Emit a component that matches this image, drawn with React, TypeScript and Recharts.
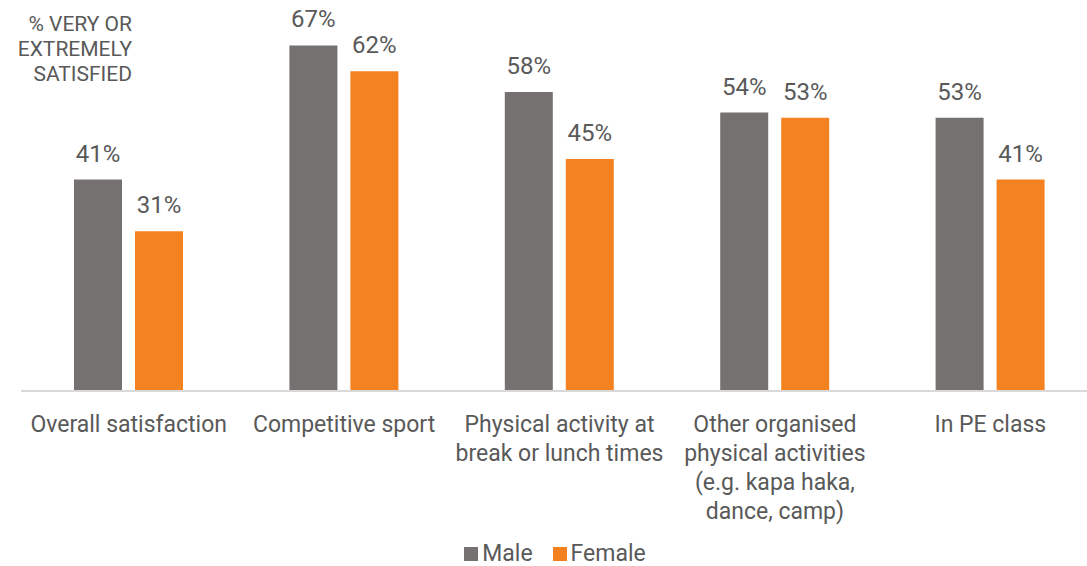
import { Bar, BarChart, LabelList, Legend, XAxis, YAxis } from 'recharts'

const categories = [
  'Overall satisfaction',
  'Competitive sport',
  'Physical activity at\nbreak or lunch times',
  'Other organised\nphysical activities\n(e.g. kapa haka,\ndance, camp)',
  'In PE class',
]
const male = [41, 67, 58, 54, 53]
const female = [31, 62, 45, 53, 41]
const seriesOrder = ['Male', 'Female']

const TEXT = '#595959'
const FONT = 'Roboto, "Noto Sans", sans-serif'

const data = categories.map((name, i) => ({ name, Male: male[i], Female: female[i] }))

function CategoryTick({ x, y, payload }: any) {
  const lines = String(payload.value).split('\n')
  return (
    <text x={x} y={y} textAnchor="middle" fill={TEXT} fontSize={23} fontFamily={FONT}>
      {lines.map((line, i) => (
        <tspan key={i} x={x} dy={i === 0 ? 33 : 29}>
          {line}
        </tspan>
      ))}
    </text>
  )
}

function LegendContent({ payload }: any) {
  const items = [...(payload ?? [])].sort(
    (a: any, b: any) => seriesOrder.indexOf(a.dataKey) - seriesOrder.indexOf(b.dataKey)
  )
  return (
    <div style={{ display: 'flex', justifyContent: 'center', gap: 20, fontFamily: FONT, fontSize: 23, color: TEXT }}>
      {items.map((it: any) => (
        <span key={it.value} style={{ display: 'flex', alignItems: 'center' }}>
          <span style={{ width: 14, height: 14, background: it.color, marginRight: 4, display: 'inline-block' }} />
          {it.value}
        </span>
      ))}
    </div>
  )
}

export default function App() {
  return (
    <div
      style={{ position: 'absolute', left: 0, top: 0, width: 1087, height: 566, overflow: 'hidden', background: '#fff' }}
    >
      <div
        style={{
          position: 'absolute',
          left: 0,
          top: 12,
          width: 132,
          textAlign: 'right',
          fontFamily: FONT,
          fontSize: 21,
          lineHeight: '25px',
          color: TEXT,
        }}
      >
        % VERY OR
        <br />
        EXTREMELY
        <br />
        SATISFIED
      </div>
      <BarChart
        width={1098}
        height={566}
        data={data}
        margin={{ top: 30, right: 0, bottom: 0, left: 21 }}
        barSize={48}
        barGap={13}
      >
        <XAxis
          dataKey="name"
          axisLine={{ stroke: '#d9d9d9', strokeWidth: 2 }}
          tickLine={false}
          tick={<CategoryTick />}
          height={175}
          interval={0}
        />
        <YAxis hide domain={[0, 70]} />
        <Legend
          verticalAlign="middle"
          align="center"
          content={<LegendContent />}
          wrapperStyle={{ top: 540, left: 0, width: 1110, height: 27 }}
        />
        <Bar dataKey="Male" fill="#767171" isAnimationActive={false}>
          <LabelList
            dataKey="Male"
            position="top"
            offset={18}
            formatter={(v: any) => `${v}%`}
            fill={TEXT}
            fontSize={24}
            fontFamily={FONT}
          />
        </Bar>
        <Bar dataKey="Female" fill="#f58220" isAnimationActive={false}>
          <LabelList
            dataKey="Female"
            position="top"
            offset={18}
            formatter={(v: any) => `${v}%`}
            fill={TEXT}
            fontSize={24}
            fontFamily={FONT}
          />
        </Bar>
      </BarChart>
    </div>
  )
}
